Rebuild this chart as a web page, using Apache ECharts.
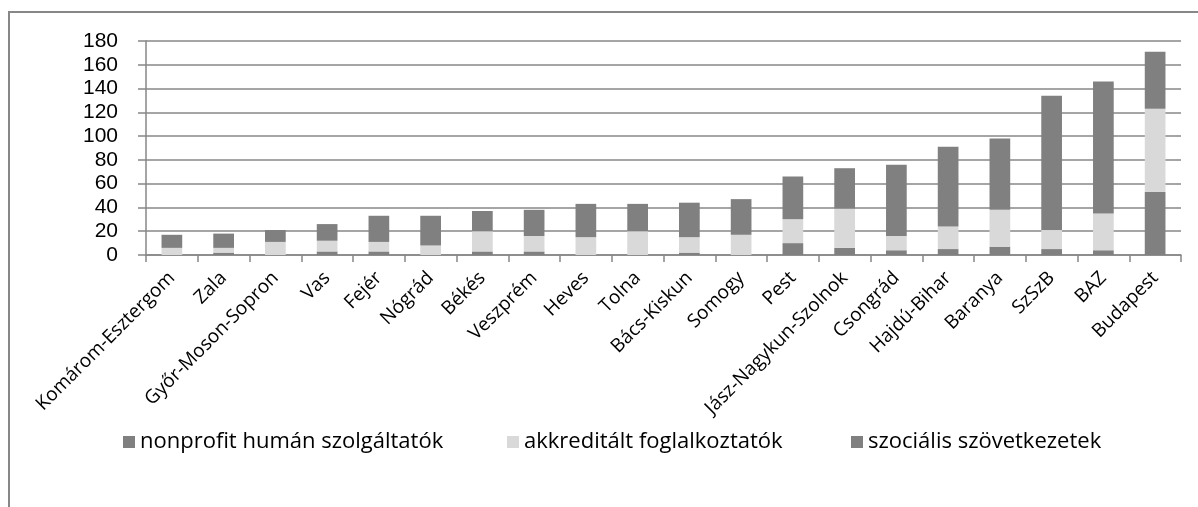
<!DOCTYPE html>
<html>
<head>
<meta charset="utf-8">
<script src="https://cdn.jsdelivr.net/npm/echarts@6/dist/echarts.min.js"></script>
<style>
  html, body { margin: 0; padding: 0; background: #fff; }
  #frame {
    position: absolute; left: 8px; top: 11px; width: 1300px; height: 600px;
    border-top: 2px solid #878787; border-left: 2px solid #878787;
  }
  #chart { position: absolute; left: 0; top: 0; width: 1198px; height: 507px; }
</style>
</head>
<body>
<div id="frame"></div>
<div id="chart"></div>
<script>
const counties = [
  'Komárom-Esztergom', 'Zala', 'Győr-Moson-Sopron', 'Vas', 'Fejér', 'Nógrád',
  'Békés', 'Veszprém', 'Heves', 'Tolna', 'Bács-Kiskun', 'Somogy', 'Pest',
  'Jász-Nagykun-Szolnok', 'Csongrád', 'Hajdú-Bihar', 'Baranya', 'SzSzB', 'BAZ', 'Budapest'
]
const seriesNames = ['nonprofit humán szolgáltatók', 'akkreditált foglalkoztatók', 'szociális szövetkezetek']
const nonprofit = [0, 2, 0, 3, 3, 0, 3, 3, 0, 0, 2, 0, 10, 6, 4, 5, 7, 5, 4, 53]
const akkreditalt = [6, 4, 11, 9, 8, 8, 17, 13, 15, 20, 13, 17, 20, 33, 12, 19, 31, 16, 31, 70]
const szocialis = [11, 12, 10, 14, 22, 25, 17, 22, 28, 23, 29, 30, 36, 34, 60, 67, 60, 113, 111, 48]
const yTicks = { min: 0, max: 180, step: 20 }

const chart = echarts.init(document.getElementById('chart'))

const numFont = 'Liberation Sans, Arial, sans-serif'
const textFont = 'Open Sans, Noto Sans, sans-serif'

function barSeries(name, data, color) {
  return {
    name,
    type: 'bar',
    stack: 'total',
    data,
    barWidth: '40%',
    itemStyle: { color },
    emphasis: { disabled: true }
  }
}

// one legend per item so each sits where the original puts it
const legendLeft = [118, 502, 846]
const legends = seriesNames.map((name, i) => ({
  left: legendLeft[i],
  top: 426,
  itemWidth: 12,
  itemHeight: 12,
  icon: 'rect',
  textStyle: { fontFamily: textFont, fontSize: 22, color: '#000' },
  data: [name]
}))

chart.setOption({
  animation: false,
  textStyle: { fontFamily: textFont, color: '#000' },
  grid: { left: 146, right: 17, top: 41, bottom: 252, containLabel: false },
  legend: legends,
  xAxis: {
    type: 'category',
    data: counties,
    axisLine: { lineStyle: { color: '#878787', width: 1.5 } },
    axisTick: { show: true, length: 7, lineStyle: { color: '#878787', width: 1.5 } },
    axisLabel: {
      interval: 0,
      rotate: 45,
      margin: 20,
      fontFamily: textFont,
      fontSize: 19,
      color: '#000'
    }
  },
  yAxis: {
    type: 'value',
    min: yTicks.min,
    max: yTicks.max,
    interval: yTicks.step,
    axisLine: { show: true, lineStyle: { color: '#878787', width: 1.5 } },
    axisTick: { show: true, length: 8, lineStyle: { color: '#878787', width: 1.5 } },
    splitLine: { lineStyle: { color: '#878787', width: 1.5 } },
    axisLabel: { margin: 28, fontFamily: numFont, fontSize: 21, color: '#000' }
  },
  series: [
    barSeries(seriesNames[0], nonprofit, '#808080'),
    barSeries(seriesNames[1], akkreditalt, '#d9d9d9'),
    barSeries(seriesNames[2], szocialis, '#808080')
  ]
})
</script>
</body>
</html>
